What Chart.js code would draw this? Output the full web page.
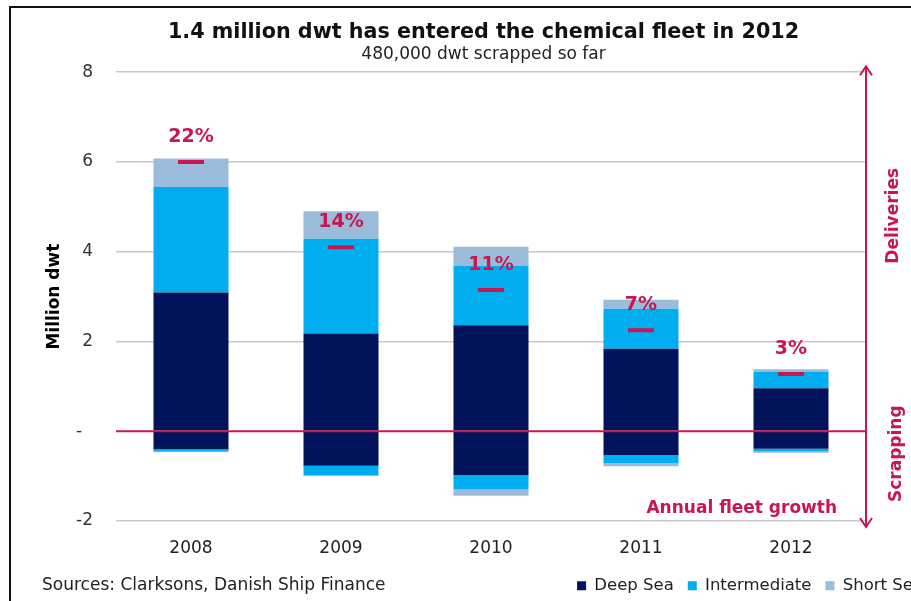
<!DOCTYPE html>
<html>
<head>
<meta charset="utf-8">
<script src="https://cdn.jsdelivr.net/npm/chart.js@4.4.1/dist/chart.umd.min.js"></script>
<style>
  html, body { margin: 0; padding: 0; background: #fff; }
  #wrap { position: relative; width: 911px; height: 601px; overflow: hidden; }
  #frame { position: absolute; left: 9px; top: 6px; width: 1000px; height: 700px;
           border-top: 2px solid #111; border-left: 2px solid #111; pointer-events: none; }
  canvas { position: absolute; left: 0; top: 0; }
</style>
</head>
<body>
<div id="wrap">
  <canvas id="chart" width="937" height="601"></canvas>
  <div id="frame"></div>
</div>
<script>
const years = ['2008', '2009', '2010', '2011', '2012'];
// deliveries, million dwt
const deepSea = [3.09, 2.18, 2.36, 1.84, 0.96];
const intermediate = [2.35, 2.11, 1.33, 0.89, 0.36];
const shortSea = [0.64, 0.61, 0.42, 0.20, 0.06];
// scrapping, million dwt
const deepSeaScrap = [-0.40, -0.77, -0.98, -0.53, -0.39];
const intermediateScrap = [-0.05, -0.21, -0.32, -0.18, -0.06];
const shortSeaScrap = [-0.02, -0.02, -0.14, -0.07, -0.03];
// annual fleet growth, %
const fleetGrowth = [22.0, 14.4, 10.6, 7.0, 3.1];
const yTicks = [-2, 0, 2, 4, 6, 8];

const navy = '#00135b';
const cyan = '#00aeef';
const steel = '#9bbbda';
const crimson = '#c8174f';

Chart.defaults.font.family = '"DejaVu Sans", Verdana, sans-serif';
Chart.defaults.color = '#222';

const bar = (label, data, color) => ({
  type: 'bar', label, data, backgroundColor: color, yAxisID: 'y',
  stack: 'fleet', order: 1, barPercentage: 0.5, categoryPercentage: 1
});

// zero line, growth labels, side arrow and notes
const extras = {
  id: 'extras',
  afterDatasetsDraw(chart) {
    const { ctx, chartArea: a, scales: { y } } = chart;
    const y0 = y.getPixelForValue(0);
    ctx.save();
    ctx.strokeStyle = crimson;
    ctx.lineWidth = 2;
    ctx.beginPath();
    ctx.moveTo(a.left, y0);
    ctx.lineTo(a.right, y0);
    ctx.stroke();

    const meta = chart.getDatasetMeta(6);
    ctx.fillStyle = crimson;
    ctx.font = 'bold 19px "DejaVu Sans"';
    ctx.textAlign = 'center';
    ctx.textBaseline = 'middle';
    meta.data.forEach((pt, i) => {
      ctx.fillText(Math.round(fleetGrowth[i]) + '%', pt.x, pt.y - 25);
    });
    ctx.restore();
  },
  afterDraw(chart) {
    const { ctx, chartArea: a, scales: { y } } = chart;
    const x = a.right;
    const top = a.top - 6, bottom = a.bottom + 6;
    ctx.save();
    ctx.strokeStyle = crimson;
    ctx.lineWidth = 2;
    ctx.beginPath();
    ctx.moveTo(x, top); ctx.lineTo(x, bottom);
    ctx.moveTo(x - 6, top + 9); ctx.lineTo(x, top); ctx.lineTo(x + 6, top + 9);
    ctx.moveTo(x - 6, bottom - 9); ctx.lineTo(x, bottom); ctx.lineTo(x + 6, bottom - 9);
    ctx.stroke();

    ctx.fillStyle = crimson;
    ctx.font = 'bold 17px "DejaVu Sans"';
    ctx.textBaseline = 'middle';
    ctx.textAlign = 'right';
    ctx.fillText('Annual fleet growth', x - 29, a.bottom - 12);

    ctx.textAlign = 'center';
    [['Deliveries', 4.8, 894], ['Scrapping', -0.5, 897]].forEach(([t, v, tx]) => {
      ctx.save();
      ctx.translate(tx, y.getPixelForValue(v));
      ctx.rotate(-Math.PI / 2);
      ctx.fillText(t, 0, 0);
      ctx.restore();
    });

    const hb = chart.legend.legendHitBoxes[0];
    ctx.fillStyle = '#222';
    ctx.font = '17px "DejaVu Sans"';
    ctx.textAlign = 'left';
    ctx.fillText('Sources: Clarksons, Danish Ship Finance', 42, hb.top + hb.height / 2);
    ctx.restore();
  }
};

new Chart(document.getElementById('chart'), {
  data: {
    labels: years,
    datasets: [
      bar('Deep Sea', deepSea, navy),
      bar('Intermediate', intermediate, cyan),
      bar('Short Sea', shortSea, steel),
      bar('Deep Sea', deepSeaScrap, navy),
      bar('Intermediate', intermediateScrap, cyan),
      bar('Short Sea', shortSeaScrap, steel),
      {
        type: 'line', label: 'Annual fleet growth', data: fleetGrowth, yAxisID: 'yG',
        showLine: false, pointStyle: 'line', pointRadius: 13, pointHoverRadius: 13,
        pointBorderWidth: 4, borderColor: crimson, backgroundColor: crimson, order: 0
      }
    ]
  },
  options: {
    responsive: false,
    animation: false,
    layout: { padding: { left: 30, bottom: -3 } },
    plugins: {
      title: {
        display: true,
        text: '1.4 million dwt has entered the chemical fleet in 2012',
        color: '#111',
        font: { size: 20.7, weight: 'bold' },
        padding: { top: 20, bottom: 0 }
      },
      subtitle: {
        display: true,
        text: '480,000 dwt scrapped so far',
        color: '#222',
        font: { size: 17 },
        padding: { top: 0, bottom: 7 }
      },
      legend: {
        position: 'bottom',
        align: 'end',
        labels: {
          boxWidth: 9, boxHeight: 9, padding: 14,
          font: { size: 16.5 }, color: '#222',
          filter: item => item.datasetIndex < 3
        }
      },
      tooltip: { enabled: false }
    },
    scales: {
      x: {
        stacked: true,
        grid: { display: false },
        border: { display: false },
        ticks: { font: { size: 17 }, color: '#222', padding: 9 },
        afterFit: s => { s.height = 42.5; }
      },
      y: {
        stacked: true,
        min: -2, max: 8,
        afterBuildTicks: s => { s.ticks = yTicks.map(v => ({ value: v })); },
        ticks: {
          padding: 23, color: '#333', font: { size: 17 },
          callback: v => v === 0 ? '-  ' : v
        },
        grid: {
          drawTicks: false, lineWidth: 1.5,
          color: c => c.tick && c.tick.value === 0 ? 'rgba(0,0,0,0)' : '#c9c9c9'
        },
        border: { display: false },
        title: {
          display: true, text: 'Million dwt', color: '#000',
          font: { size: 17, weight: 'bold' }, padding: { top: 14, bottom: 0 }
        },
        afterFit: s => { s.width = 86; }
      },
      yG: {
        position: 'right',
        min: -10, max: 30,
        ticks: { display: false },
        grid: { display: false },
        border: { display: false },
        afterFit: s => { s.width = 71; }
      }
    }
  },
  plugins: [extras]
});
</script>
</body>
</html>
